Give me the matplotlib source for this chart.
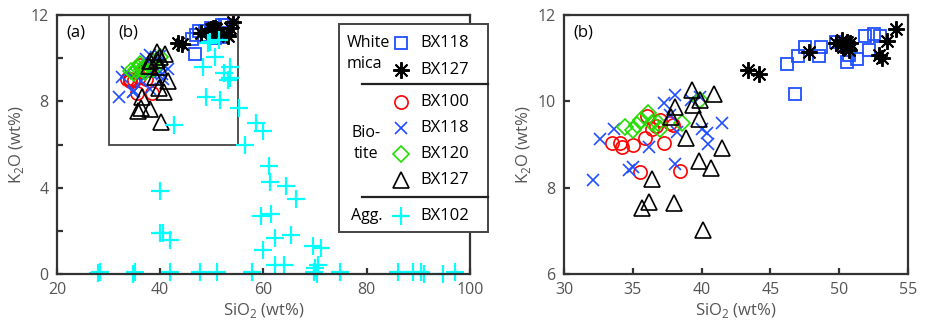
import matplotlib
matplotlib.use("Agg")
import matplotlib.pyplot as plt
from matplotlib.lines import Line2D
from matplotlib.patches import Rectangle
from matplotlib.ticker import MultipleLocator

plt.rcParams['font.family'] = ['Open Sans', 'DejaVu Sans']
plt.rcParams['mathtext.fontset'] = 'custom'
plt.rcParams['mathtext.rm'] = 'Open Sans'

# ---- data (SiO2, K2O in wt%) ----
# white mica
wm118_si = [46.2, 46.8, 47.0, 47.5, 48.5, 48.7, 49.8, 50.2, 50.6, 50.7, 51.3, 51.9, 52.5, 53.0, 52.2]
wm118_k = [10.87, 10.17, 11.05, 11.26, 11.05, 11.26, 11.38, 11.30, 10.92, 11.07, 10.97, 11.52, 11.55, 11.51, 11.18]
wm127_si = [43.4, 44.2, 47.8, 49.8, 50.1, 50.2, 50.3, 50.6, 50.7, 50.8, 50.5, 52.9, 53.1, 53.5, 54.1]
wm127_k = [10.72, 10.63, 11.14, 11.34, 11.31, 11.41, 11.26, 11.38, 11.18, 11.35, 11.30, 11.07, 11.01, 11.40, 11.68]

# biotite
bt100_si = [33.5, 34.1, 34.2, 35.0, 35.5, 35.9, 36.0, 36.4, 36.7, 37.0, 37.3, 37.7, 37.9, 38.4]
bt100_k = [9.04, 9.04, 8.95, 8.99, 8.37, 9.14, 9.66, 9.37, 9.42, 9.56, 9.04, 9.49, 9.45, 8.39]
bt118_si = [32.1, 32.6, 33.6, 34.7, 35.0, 36.2, 37.3, 37.7, 38.1, 38.2, 38.1, 39.2, 39.9, 40.0, 40.4, 40.5, 41.5]
bt118_k = [8.18, 9.12, 9.37, 8.41, 8.48, 8.95, 9.95, 9.68, 10.14, 9.29, 8.56, 10.03, 10.10, 9.37, 9.26, 9.02, 9.49]
bt120_si = [34.4, 35.0, 35.3, 35.6, 36.1, 36.4, 36.8, 37.0, 38.6, 39.9]
bt120_k = [9.41, 9.33, 9.45, 9.56, 9.72, 9.49, 9.49, 9.37, 9.49, 10.03]
bt127_si = [39.3, 40.9, 38.1, 37.8, 39.4, 39.8, 39.9, 38.9, 41.5, 39.8, 40.7, 36.4, 36.2, 35.7, 38.0, 40.1]
bt127_k = [10.27, 10.18, 9.86, 9.64, 9.91, 9.60, 10.03, 9.14, 8.92, 8.62, 8.45, 8.19, 7.67, 7.54, 7.65, 7.03]

# aggregate
agg102_si = [27.9, 28.3, 34.8, 35.2, 39.9, 39.9, 40.6, 41.9, 41.9, 42.6, 47.7, 48.3, 48.9, 49.3,
             49.7, 50.6, 51.0, 51.3, 51.6, 52.3, 53.2, 53.5, 53.5, 55.3, 56.5, 57.7, 58.6, 60.0,
             59.5, 60.0, 61.0, 61.2, 61.4, 62.3, 62.3, 63.9, 64.4, 65.3, 66.3, 69.5, 71.1, 69.7,
             70.0, 70.6, 70.3, 74.8, 86.1, 89.0, 90.6, 91.0, 94.8, 97.1]
agg102_k = [0.05, 0.1, 0.0, 0.1, 3.86, 1.88, 1.88, 1.57, 0.1, 6.89, 0.1, 9.59, 8.2, 10.69,
            10.75, 10.07, 0.1, 10.83, 8.08, 9.32, 8.98, 9.06, 9.59, 7.67, 5.97, 0.1, 7.0, 6.62,
            2.68, 1.11, 5.01, 4.27, 2.80, 1.68, 0.42, 0.42, 4.09, 1.79, 3.49, 1.3, 1.19, 0.1,
            0.26, 0.42, 0.0, 0.1, 0.1, 0.1, 0.1, 0.0, 0.0, 0.1]

blue = '#1f4fff'
red = '#ff0000'
green = '#22dd00'
cyan = '#00ffff'

series = [
    (wm118_si, wm118_k, dict(marker='s', ms=8, mfc='none', mec=blue, mew=1.3)),
    (wm127_si, wm127_k, dict(marker=(8, 2, 0), ms=12, mfc='none', mec='black', mew=1.4)),
    (bt100_si, bt100_k, dict(marker='o', ms=9.5, mfc='none', mec=red, mew=1.2)),
    (bt118_si, bt118_k, dict(marker='x', ms=9, mfc='none', mec=blue, mew=1.2)),
    (bt120_si, bt120_k, dict(marker='D', ms=8, mfc='none', mec=green, mew=1.2)),
    (bt127_si, bt127_k, dict(marker='^', ms=12, mfc='none', mec='black', mew=1.2)),
]
agg_style = dict(marker='+', ms=13, mfc='none', mec=cyan, mew=1.6)

fig = plt.figure(figsize=(9.25, 3.24), dpi=100)
ax1 = fig.add_axes([0.0616, 0.154, 0.4465, 0.800])
ax2 = fig.add_axes([0.6097, 0.154, 0.3719, 0.800])

frame = '#333333'
tick_col = '#555555'


def style_axes(ax):
    for sp in ax.spines.values():
        sp.set_linewidth(1.6)
        sp.set_color(frame)
    ax.tick_params(which='both', direction='in', length=4, width=1.6,
                   color=frame, labelcolor=tick_col, labelsize=11.5, pad=6)
    ax.set_xlabel('SiO$_\\mathregular{2}$ (wt%)', fontsize=12, color=tick_col, labelpad=2)
    ax.set_ylabel('K$_\\mathregular{2}$O (wt%)', fontsize=12, color=tick_col, labelpad=3)


for ax in (ax1, ax2):
    for xs, ys, st in series:
        ax.plot(xs, ys, ls='none', **st)
ax1.plot(agg102_si, agg102_k, ls='none', clip_on=False, **agg_style)

ax1.set_xlim(20, 100)
ax1.set_ylim(0, 12)
ax1.xaxis.set_major_locator(MultipleLocator(20))
ax1.yaxis.set_major_locator(MultipleLocator(4))
ax1.yaxis.set_minor_locator(MultipleLocator(2))
style_axes(ax1)
ax1.tick_params(which='minor', length=4)

ax2.set_xlim(30, 55)
ax2.set_ylim(6, 12)
ax2.xaxis.set_major_locator(MultipleLocator(5))
ax2.yaxis.set_major_locator(MultipleLocator(2))
style_axes(ax2)

# zoom box marking panel (b)
ax1.add_patch(Rectangle((30, 6), 25, 6, fill=False, ec='#444444', lw=1.3, zorder=1))
ax1.text(23.7, 11.2, '(a)', fontsize=12, ha='center', va='center')
ax1.text(33.9, 11.2, '(b)', fontsize=12, ha='center', va='center')
ax2.text(31.4, 11.6, '(b)', fontsize=12, ha='center', va='center')

# custom grouped legend
lx0, lx1, ly0, ly1 = 0.3665, 0.5276, 0.284, 0.926
fig.add_artist(Rectangle((lx0, ly0), lx1 - lx0, ly1 - ly0, transform=fig.transFigure,
                         fc='white', ec='#444444', lw=1.4, zorder=5))
for yy in (0.741, 0.392):
    fig.add_artist(Line2D([0.391, lx1], [yy, yy], transform=fig.transFigure,
                          color='#222222', lw=1.6, zorder=6))

leg_rows = [0.867, 0.784, 0.685, 0.605, 0.525, 0.444]
leg_names = ['BX118', 'BX127', 'BX100', 'BX118', 'BX120', 'BX127']
for yy, name, (_, _, st) in zip(leg_rows, leg_names, series):
    fig.add_artist(Line2D([0.4335], [yy], transform=fig.transFigure, ls='none', zorder=7, **st))
    fig.text(0.454, yy, name, fontsize=12, va='center', ha='left', zorder=7)
fig.add_artist(Line2D([0.4335], [0.333], transform=fig.transFigure, ls='none', zorder=7, **agg_style))
fig.text(0.454, 0.333, 'BX102', fontsize=12, va='center', ha='left', zorder=7)

fig.text(0.375, 0.867, 'White', fontsize=11.5, va='center', ha='left', zorder=7)
fig.text(0.375, 0.802, 'mica', fontsize=11.5, va='center', ha='left', zorder=7)
fig.text(0.396, 0.589, 'Bio-', fontsize=11.5, va='center', ha='center', zorder=7)
fig.text(0.396, 0.525, 'tite', fontsize=11.5, va='center', ha='center', zorder=7)
fig.text(0.397, 0.333, 'Agg.', fontsize=11.5, va='center', ha='center', zorder=7)

fig.savefig('out.png', dpi=100)
